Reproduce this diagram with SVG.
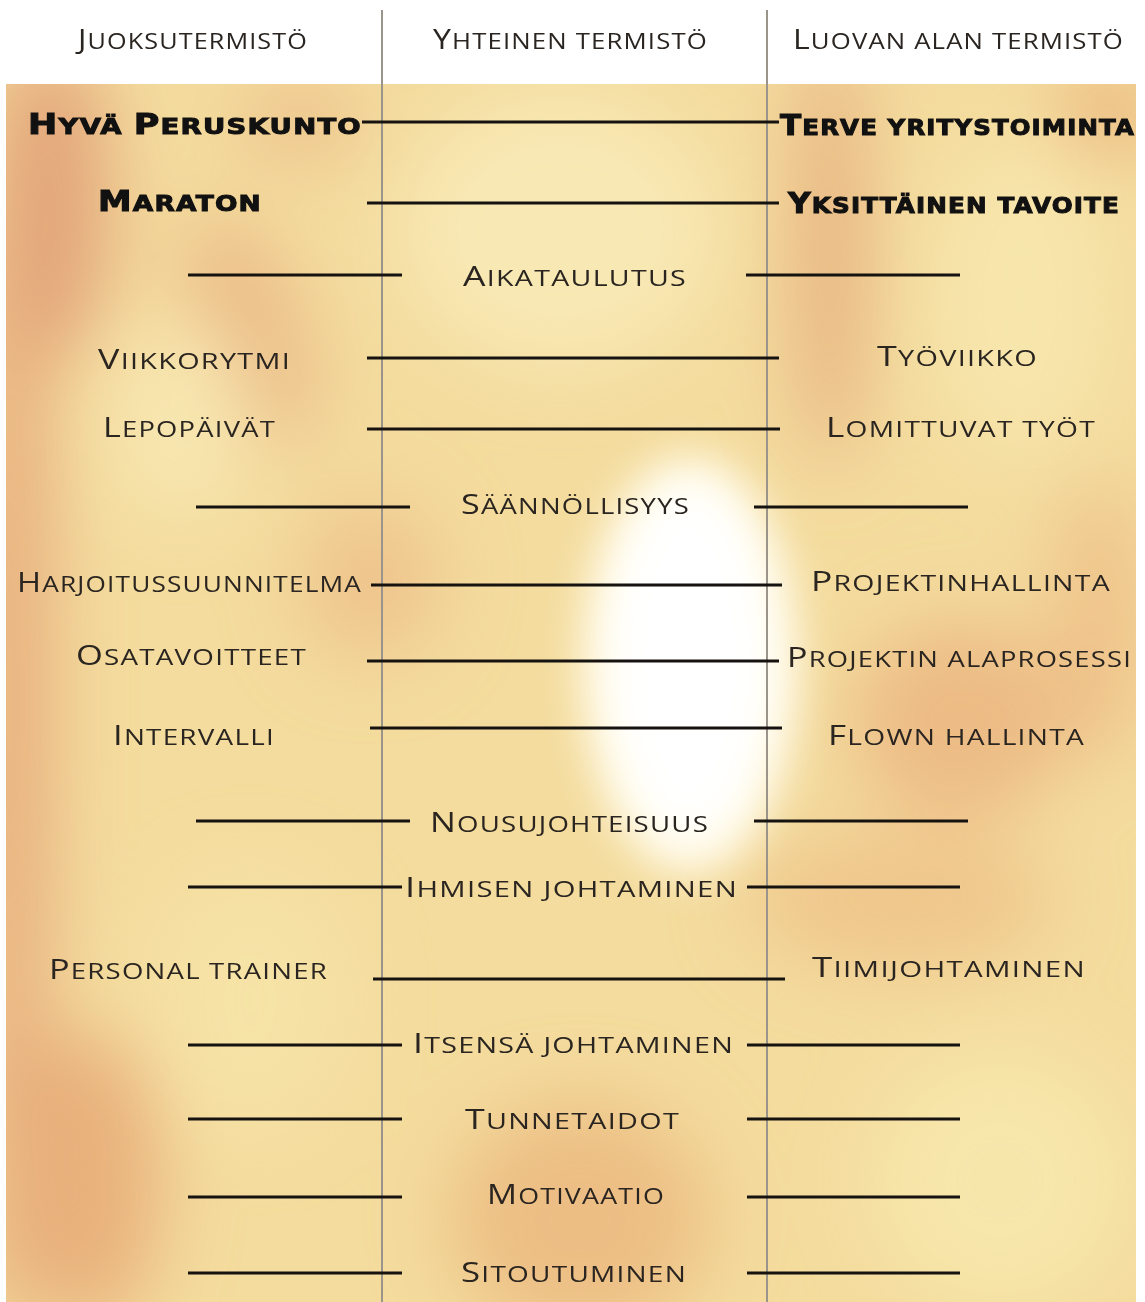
<svg xmlns="http://www.w3.org/2000/svg" width="1145" height="1302" viewBox="0 0 1145 1302">
<style>
.t{font-family:"Open Sans","Liberation Sans",sans-serif;font-size:22.5px;fill:#2a2520;letter-spacing:1px}
.t .k{font-size:28px}
.b{font-family:"DejaVu Sans","Liberation Sans",sans-serif;font-weight:bold;font-size:22px;fill:#111;stroke:#111;stroke-width:1px;letter-spacing:1px}
.b .k{font-size:28px}
.c line{stroke:#151210;stroke-width:3}
.v{stroke:#9a948a;stroke-width:2}
</style>
<defs>
<clipPath id="bgc"><rect x="6" y="84" width="1130" height="1218"/></clipPath>
<filter id="blur" x="-30%" y="-30%" width="160%" height="160%"><feGaussianBlur stdDeviation="38"/></filter>
<filter id="blur2" x="-50%" y="-50%" width="200%" height="200%"><feGaussianBlur stdDeviation="20"/></filter>
</defs>
<rect width="1145" height="1302" fill="#fff"/>
<g id="background" clip-path="url(#bgc)">
<rect x="6" y="84" width="1130" height="1218" fill="#f4dc9e"/>
<g filter="url(#blur)">
<ellipse cx="10" cy="700" rx="40" ry="650" fill="#e6aa7a"/>
<ellipse cx="60" cy="200" rx="50" ry="160" fill="#e2a47a"/>
<ellipse cx="90" cy="1180" rx="70" ry="150" fill="#e8b07c"/>
<ellipse cx="250" cy="330" rx="50" ry="120" fill="#eab985" transform="rotate(-20 250 330)"/>
<ellipse cx="300" cy="120" rx="60" ry="40" fill="#ecc08a"/>
<ellipse cx="370" cy="580" rx="70" ry="80" fill="#eec48c"/>
<ellipse cx="830" cy="250" rx="35" ry="220" fill="#e6b07f"/>
<ellipse cx="1110" cy="110" rx="50" ry="45" fill="#ebb67e"/>
<ellipse cx="960" cy="720" rx="110" ry="100" fill="#ecbb85"/>
<ellipse cx="1100" cy="620" rx="45" ry="140" fill="#eec189"/>
<ellipse cx="900" cy="900" rx="150" ry="70" fill="#efc68c"/>
<ellipse cx="580" cy="1220" rx="130" ry="120" fill="#ecbe84"/>
<ellipse cx="180" cy="420" rx="70" ry="100" fill="#f7e6b0"/>
<ellipse cx="560" cy="230" rx="160" ry="140" fill="#f8e8b4"/>
<ellipse cx="1020" cy="300" rx="90" ry="160" fill="#f7e5ac"/>
<ellipse cx="1000" cy="1180" rx="130" ry="130" fill="#f7e6aa"/>
<ellipse cx="250" cy="1000" rx="100" ry="130" fill="#f6e2a6"/>
</g>
<g filter="url(#blur2)">
<ellipse cx="690" cy="665" rx="110" ry="210" fill="#fffbea"/>
<ellipse cx="690" cy="660" rx="80" ry="175" fill="#ffffff"/>
</g>
</g>
<g id="columns">
<line class="v" x1="382" y1="10" x2="382" y2="1302"/>
<line class="v" x1="767" y1="10" x2="767" y2="1302"/>
</g>
<g id="headers">
<text id="h-juoksu" class="t" x="78" y="49" textLength="230" lengthAdjust="spacingAndGlyphs"><tspan class="k">J</tspan>UOKSUTERMISTÖ</text>
<text id="h-yhteinen" class="t" x="433" y="49" textLength="275" lengthAdjust="spacingAndGlyphs"><tspan class="k">Y</tspan>HTEINEN TERMISTÖ</text>
<text id="h-luova" class="t" x="793" y="49" textLength="331" lengthAdjust="spacingAndGlyphs"><tspan class="k">L</tspan>UOVAN ALAN TERMISTÖ</text>
</g>
<g id="connectors" class="c">
<line x1="362" y1="122" x2="779" y2="122"/>
<line x1="367" y1="203" x2="779" y2="203"/>
<line x1="188" y1="275" x2="402" y2="275"/><line x1="746" y1="275" x2="960" y2="275"/>
<line x1="367" y1="358" x2="779" y2="358"/>
<line x1="367" y1="429" x2="780" y2="429"/>
<line x1="196" y1="507" x2="410" y2="507"/><line x1="754" y1="507" x2="968" y2="507"/>
<line x1="371" y1="585" x2="782" y2="585"/>
<line x1="367" y1="661" x2="779" y2="661"/>
<line x1="370" y1="728" x2="782" y2="728"/>
<line x1="196" y1="821" x2="410" y2="821"/><line x1="754" y1="821" x2="968" y2="821"/>
<line x1="188" y1="887" x2="402" y2="887"/><line x1="747" y1="887" x2="960" y2="887"/>
<line x1="373" y1="979" x2="785" y2="979"/>
<line x1="188" y1="1045" x2="402" y2="1045"/><line x1="747" y1="1045" x2="960" y2="1045"/>
<line x1="188" y1="1119" x2="402" y2="1119"/><line x1="747" y1="1119" x2="960" y2="1119"/>
<line x1="188" y1="1197" x2="402" y2="1197"/><line x1="747" y1="1197" x2="960" y2="1197"/>
<line x1="188" y1="1273" x2="402" y2="1273"/><line x1="747" y1="1273" x2="960" y2="1273"/>
</g>
<g id="n-peruskunto"><text class="b" x="28" y="134" textLength="334" lengthAdjust="spacingAndGlyphs"><tspan class="k">H</tspan>YVÄ <tspan class="k">P</tspan>ERUSKUNTO</text></g>
<g id="n-terve"><text class="b" x="780" y="135" textLength="355" lengthAdjust="spacingAndGlyphs"><tspan class="k">T</tspan>ERVE YRITYSTOIMINTA</text></g>
<g id="n-maraton"><text class="b" x="98" y="211" textLength="164" lengthAdjust="spacingAndGlyphs"><tspan class="k">M</tspan>ARATON</text></g>
<g id="n-tavoite"><text class="b" x="788" y="213" textLength="332" lengthAdjust="spacingAndGlyphs"><tspan class="k">Y</tspan>KSITTÄINEN TAVOITE</text></g>
<g id="n-aikataulutus"><text class="t" x="463" y="286" textLength="224" lengthAdjust="spacingAndGlyphs"><tspan class="k">A</tspan>IKATAULUTUS</text></g>
<g id="n-viikkorytmi"><text class="t" x="98" y="369" textLength="193" lengthAdjust="spacingAndGlyphs"><tspan class="k">V</tspan>IIKKORYTMI</text></g>
<g id="n-tyoviikko"><text class="t" x="877" y="366" textLength="161" lengthAdjust="spacingAndGlyphs"><tspan class="k">T</tspan>YÖVIIKKO</text></g>
<g id="n-lepopaivat"><text class="t" x="103" y="437" textLength="173" lengthAdjust="spacingAndGlyphs"><tspan class="k">L</tspan>EPOPÄIVÄT</text></g>
<g id="n-lomittuvat"><text class="t" x="826" y="437" textLength="270" lengthAdjust="spacingAndGlyphs"><tspan class="k">L</tspan>OMITTUVAT TYÖT</text></g>
<g id="n-saannollisyys"><text class="t" x="461" y="514" textLength="229" lengthAdjust="spacingAndGlyphs"><tspan class="k">S</tspan>ÄÄNNÖLLISYYS</text></g>
<g id="n-harjoitus"><text class="t" x="17" y="592" textLength="345" lengthAdjust="spacingAndGlyphs"><tspan class="k">H</tspan>ARJOITUSSUUNNITELMA</text></g>
<g id="n-projektinhallinta"><text class="t" x="811" y="591" textLength="300" lengthAdjust="spacingAndGlyphs"><tspan class="k">P</tspan>ROJEKTINHALLINTA</text></g>
<g id="n-osatavoitteet"><text class="t" x="76" y="665" textLength="231" lengthAdjust="spacingAndGlyphs"><tspan class="k">O</tspan>SATAVOITTEET</text></g>
<g id="n-alaprosessi"><text class="t" x="787" y="667" textLength="345" lengthAdjust="spacingAndGlyphs"><tspan class="k">P</tspan>ROJEKTIN ALAPROSESSI</text></g>
<g id="n-intervalli"><text class="t" x="113" y="745" textLength="162" lengthAdjust="spacingAndGlyphs"><tspan class="k">I</tspan>NTERVALLI</text></g>
<g id="n-flown"><text class="t" x="828" y="745" textLength="257" lengthAdjust="spacingAndGlyphs"><tspan class="k">F</tspan>LOWN HALLINTA</text></g>
<g id="n-nousu"><text class="t" x="430" y="832" textLength="279" lengthAdjust="spacingAndGlyphs"><tspan class="k">N</tspan>OUSUJOHTEISUUS</text></g>
<g id="n-ihmisen"><text class="t" x="405" y="897" textLength="333" lengthAdjust="spacingAndGlyphs"><tspan class="k">I</tspan>HMISEN JOHTAMINEN</text></g>
<g id="n-personal"><text class="t" x="49" y="979" textLength="279" lengthAdjust="spacingAndGlyphs"><tspan class="k">P</tspan>ERSONAL TRAINER</text></g>
<g id="n-tiimi"><text class="t" x="812" y="977" textLength="274" lengthAdjust="spacingAndGlyphs"><tspan class="k">T</tspan>IIMIJOHTAMINEN</text></g>
<g id="n-itsensa"><text class="t" x="413" y="1053" textLength="321" lengthAdjust="spacingAndGlyphs"><tspan class="k">I</tspan>TSENSÄ JOHTAMINEN</text></g>
<g id="n-tunnetaidot"><text class="t" x="465" y="1129" textLength="215" lengthAdjust="spacingAndGlyphs"><tspan class="k">T</tspan>UNNETAIDOT</text></g>
<g id="n-motivaatio"><text class="t" x="487" y="1204" textLength="178" lengthAdjust="spacingAndGlyphs"><tspan class="k">M</tspan>OTIVAATIO</text></g>
<g id="n-sitoutuminen"><text class="t" x="461" y="1282" textLength="226" lengthAdjust="spacingAndGlyphs"><tspan class="k">S</tspan>ITOUTUMINEN</text></g>
</svg>
